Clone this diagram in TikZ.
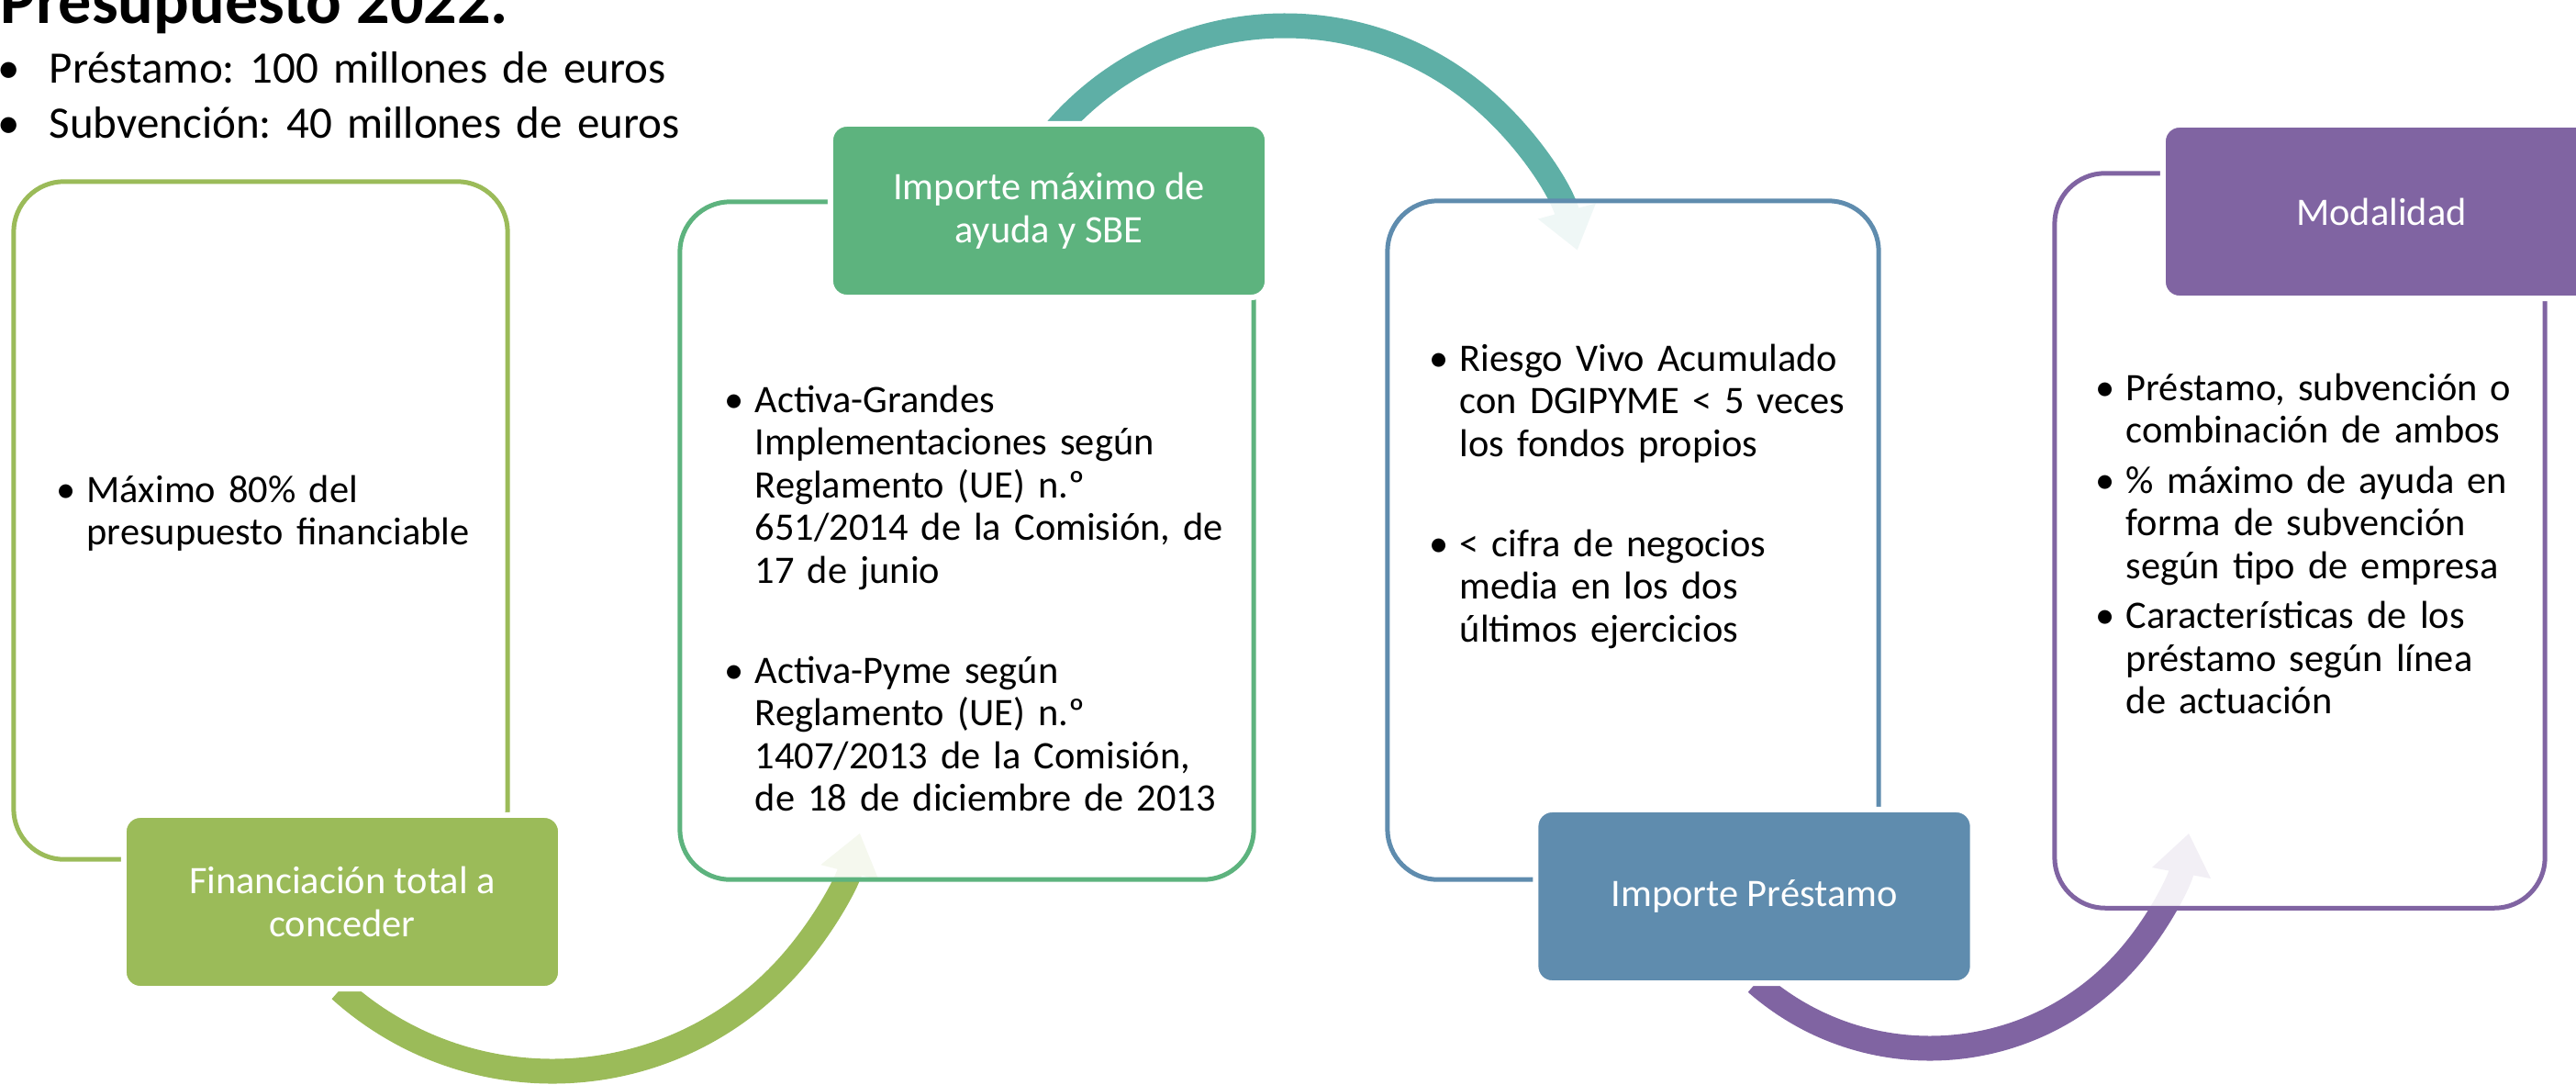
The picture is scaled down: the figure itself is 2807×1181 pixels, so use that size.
\documentclass[tikz,border=0pt]{standalone}
\usepackage{fontspec}
\setmainfont{Carlito}
\usetikzlibrary{arrows.meta}
\frenchspacing

\definecolor{cGreen}{HTML}{9BBB59}
\definecolor{cMint}{HTML}{5DB37E}
\definecolor{cTeal}{HTML}{5EAFA6}
\definecolor{cBlue}{HTML}{5F8CAE}
\definecolor{cPurple}{HTML}{8064A2}

\newcommand{\boxfont}{\fontsize{12.06pt}{13.23pt}\selectfont}
\newcommand{\bul}{\makebox[0.33cm][l]{\textbullet}}
\newcommand{\cont}{\makebox[0.33cm]{}}

\begin{document}
\begin{tikzpicture}[x=0.01cm, y=0.01cm,
    outline/.style={draw=#1, line width=0.05cm, rounded corners=0.55cm, fill=white, fill opacity=0.9},
    label/.style={fill=#1, draw=white, line width=0.06cm, rounded corners=0.18cm, minimum width=4.76cm, minimum height=1.89cm, inner sep=0pt, text=white, align=center, font=\boxfont},
    body/.style={anchor=base west, inner sep=0pt, text width=6.5cm, align=left, font=\boxfont},
    flow/.style={draw=#1, line width=0.27cm, -{Triangle[length=0.44cm, width=0.62cm]}}
]
\useasboundingbox (0,0) rectangle (2807,-1181);

% Heading and budget
\node[anchor=base west, inner sep=0pt, font=\fontsize{20.5pt}{24pt}\selectfont\bfseries] (title) at (0,-25) {Presupuesto 2022.};
\node[anchor=base west, inner sep=0pt, text width=9cm, align=left, font=\fontsize{13.94pt}{17.07pt}\selectfont] (budget) at (-3,-90)
    {\makebox[0.56cm][l]{\textbullet}Préstamo: 100 millones de euros\\
     \makebox[0.56cm][l]{\textbullet}Subvención: 40 millones de euros};

% Curved arrows (drawn first, the boxes fade their heads)
\coordinate (gc) at (602,-821);
\coordinate (tc) at (1400,-358);
\coordinate (pc) at (2103,-855);
\draw[flow=cGreen]  (gc) ++(228:346) arc[start angle=228, end angle=345.5, radius=346];
\draw[flow=cTeal]   (tc) ++(140:330) arc[start angle=140, end angle=15, radius=330];
\draw[flow=cPurple] (pc) ++(228.7:287) arc[start angle=228.7, end angle=349.4, radius=287];

% Outline boxes
\node[outline=cGreen,  minimum width=5.38cm, minimum height=7.38cm] (box1) at (284,-567) {};
\node[outline=cMint,   minimum width=6.25cm, minimum height=7.38cm] (box2) at (1053.5,-589) {};
\node[outline=cBlue,   minimum width=5.35cm, minimum height=7.39cm] (box3) at (1779.5,-588.5) {};
\node[outline=cPurple, minimum width=5.34cm, minimum height=8.00cm] (box4) at (2506,-589) {};

% Labels
\node[label=cGreen]  (fin)   at (373,-982.5)   {Financiación total a\\conceder};
\node[label=cMint]   (imax)  at (1143,-229.5)  {Importe máximo de\\ayuda y SBE};
\node[label=cBlue]   (ipres) at (1911.5,-976.5) {Importe Préstamo};
\node[label=cPurple] (moda)  at (2595,-230.5)  {Modalidad};

% Box texts
\node[body] (t1) at (61,-547)
    {\bul Máximo 80\% del\\
     \cont presupuesto financiable};
\node[body] (t2) at (789,-449)
    {\bul Activa-Grandes\\
     \cont Implementaciones según\\
     \cont Reglamento (UE) n.º\\
     \cont 651/2014 de la Comisión, de\\
     \cont 17 de junio\\[0.625cm]
     \bul Activa-Pyme según\\
     \cont Reglamento (UE) n.º\\
     \cont 1407/2013 de la Comisión,\\
     \cont de 18 de diciembre de 2013};
\node[body] (t3) at (1557,-404)
    {\bul Riesgo Vivo Acumulado\\
     \cont con DGIPYME < 5 veces\\
     \cont los fondos propios\\[0.625cm]
     \bul < cifra de negocios\\
     \cont media en los dos\\
     \cont últimos ejercicios};
\node[body] (t4) at (2283,-436)
    {\bul Préstamo, subvención o\\
     \cont combinación de ambos\\[0.08cm]
     \bul \% máximo de ayuda en\\
     \cont forma de subvención\\
     \cont según tipo de empresa\\[0.08cm]
     \bul Características de los\\
     \cont préstamo según línea\\
     \cont de actuación};

\end{tikzpicture}
\end{document}
